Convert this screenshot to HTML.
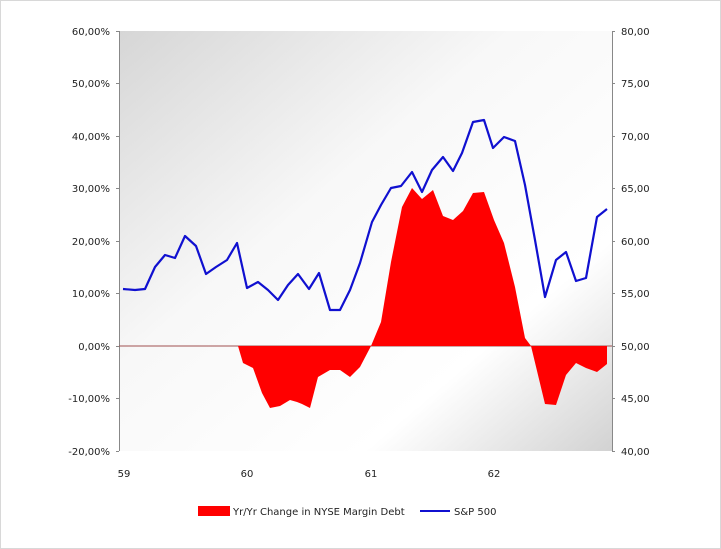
<!DOCTYPE html>
<html><head><style>
body{margin:0;background:#fff;}
svg{display:block;font-family:"DejaVu Sans","Liberation Sans",sans-serif;font-size:10px;fill:#222;}
</style></head><body>
<svg width="721" height="549" viewBox="0 0 721 549">
<defs>
<linearGradient id="bg" x1="0" y1="0" x2="1" y2="1">
<stop offset="0" stop-color="#d6d6d6"/>
<stop offset="0.4" stop-color="#f8f8f8"/>
<stop offset="0.75" stop-color="#ffffff"/>
<stop offset="1" stop-color="#d2d2d2"/>
</linearGradient>
</defs>
<rect x="0.5" y="0.5" width="720" height="548" fill="#fff" stroke="#d8d8d8"/>
<rect x="119" y="31" width="493" height="420" fill="url(#bg)"/>
<g stroke="#888" stroke-width="1">
<line x1="119.5" y1="31" x2="119.5" y2="451"/>
<line x1="612.5" y1="31" x2="612.5" y2="451"/>
<line x1="116" y1="31.5" x2="119" y2="31.5"/><line x1="116" y1="83.5" x2="119" y2="83.5"/>
<line x1="116" y1="136.5" x2="119" y2="136.5"/><line x1="116" y1="188.5" x2="119" y2="188.5"/>
<line x1="116" y1="241.5" x2="119" y2="241.5"/><line x1="116" y1="293.5" x2="119" y2="293.5"/>
<line x1="116" y1="346.5" x2="119" y2="346.5"/><line x1="116" y1="398.5" x2="119" y2="398.5"/>
<line x1="116" y1="451.5" x2="119" y2="451.5"/>
<line x1="612" y1="31.5" x2="615" y2="31.5"/><line x1="612" y1="83.5" x2="615" y2="83.5"/>
<line x1="612" y1="136.5" x2="615" y2="136.5"/><line x1="612" y1="188.5" x2="615" y2="188.5"/>
<line x1="612" y1="241.5" x2="615" y2="241.5"/><line x1="612" y1="293.5" x2="615" y2="293.5"/>
<line x1="612" y1="346.5" x2="615" y2="346.5"/><line x1="612" y1="398.5" x2="615" y2="398.5"/>
<line x1="612" y1="451.5" x2="615" y2="451.5"/>
</g>
<line x1="119" y1="346" x2="612" y2="346" stroke="#a05050" stroke-width="1"/>
<polygon fill="#ff0000" points="238,346 243,363 253,368 262,393 270,408 280,406 290,400 297,402 302,404 310,408 318,377 330,370 340,370 350,377 360,367 371,346 381,322 391,262 402,207 412,188 422,199 433,190 443,216 453,220 463,211 473,193 484,192 494,220 504,243 515,287 525,338 531,346 545,404 556,405 566,375 576,363 586,368 597,372 607,364 607,346"/>
<polyline fill="none" stroke="#1010d0" stroke-width="2.2" stroke-linejoin="round" points="123,289 135,290 145,289 155,267 165,255 175,258 185,236 196,246 206,274 216,267 227,260 237,243 247,288 258,282 268,290 278,300 288,285 298,274 309,289 319,273 330,310 340,310 350,290 360,263 372,222 381,205 391,188 401,186 412,172 422,192 432,170 443,157 453,171 462,153 473,122 484,120 493,148 504,137 515,141 525,185 535,240 545,297 556,260 566,252 576,281 586,278 597,217 607,209"/>
<g text-anchor="end">
<text x="110" y="35">60,00%</text><text x="110" y="87">50,00%</text><text x="110" y="140">40,00%</text>
<text x="110" y="192">30,00%</text><text x="110" y="245">20,00%</text><text x="110" y="297">10,00%</text>
<text x="110" y="350">0,00%</text><text x="110" y="402">-10,00%</text><text x="110" y="455">-20,00%</text>
</g>
<g>
<text x="621" y="35">80,00</text><text x="621" y="87">75,00</text><text x="621" y="140">70,00</text>
<text x="621" y="192">65,00</text><text x="621" y="245">60,00</text><text x="621" y="297">55,00</text>
<text x="621" y="350">50,00</text><text x="621" y="402">45,00</text><text x="621" y="455">40,00</text>
</g>
<g text-anchor="middle">
<text x="124" y="477">59</text><text x="247" y="477">60</text><text x="371" y="477">61</text><text x="494" y="477">62</text>
</g>
<rect x="198" y="506" width="32" height="10" fill="#ff0000"/>
<text x="233" y="515">Yr/Yr Change in NYSE Margin Debt</text>
<line x1="420" y1="511" x2="450" y2="511" stroke="#1010d0" stroke-width="2"/>
<text x="454" y="515">S&amp;P 500</text>
</svg>
</body></html>
